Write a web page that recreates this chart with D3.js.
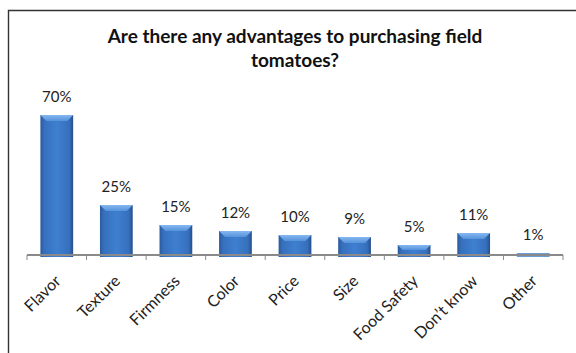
<!DOCTYPE html>
<html>
<head>
<meta charset="utf-8">
<script src="https://cdn.jsdelivr.net/npm/d3@7"></script>
<style>
  html, body { margin: 0; padding: 0; background: #fff; }
  svg { display: block; }
</style>
</head>
<body>
<svg id="chart" width="576" height="353"></svg>
<script>
// Survey responses: share of respondents naming each advantage
const categories = ["Flavor", "Texture", "Firmness", "Color", "Price", "Size", "Food Safety", "Don\u2019t know", "Other"];
const values = [70, 25, 15, 12, 10, 9, 5, 11, 1];
const valueLabels = ["70%", "25%", "15%", "12%", "10%", "9%", "5%", "11%", "1%"];
const titleLines = ["Are there any advantages to purchasing field", "tomatoes?"];

const svg = d3.select("#chart");
const W = 576, H = 353;
const font = "Lato, 'Noto Sans', sans-serif";

const axisY = 255;
const x = d3.scaleBand().domain(categories).range([27, 563]).paddingInner(0.45).paddingOuter(0.225);
const y = d3.scaleLinear().domain([0, 80]).range([axisY, 95]);

// gradients for the bevelled bars
const defs = svg.append("defs");
const body = defs.append("linearGradient").attr("id", "barBody").attr("x1", 0).attr("x2", 1).attr("y1", 0).attr("y2", 0);
[["0%", "#2a5a9c"], ["12%", "#3670bd"], ["50%", "#3f7fd0"], ["88%", "#3670bd"], ["100%", "#264f8a"]]
  .forEach(([o, c]) => body.append("stop").attr("offset", o).attr("stop-color", c));
const cap = defs.append("linearGradient").attr("id", "barCap").attr("x1", 0).attr("x2", 0).attr("y1", 0).attr("y2", 1);
[["0%", "#86b8f0"], ["100%", "#5592dc"]]
  .forEach(([o, c]) => cap.append("stop").attr("offset", o).attr("stop-color", c));

// chart frame (left and top edges)
svg.append("path")
  .attr("d", `M8.5,${H} V10.5 H${W}`)
  .attr("fill", "none").attr("stroke", "#333").attr("stroke-width", 1.4);

// title
svg.append("text")
  .attr("x", 295).attr("y", 43)
  .attr("text-anchor", "middle")
  .attr("font-family", font)
  .attr("font-weight", "bold").attr("font-size", 19).attr("fill", "#111")
  .selectAll("tspan").data(titleLines).join("tspan")
  .attr("x", 295).attr("dy", (d, i) => i === 0 ? 0 : 24)
  .text(d => d);

// bars
const bw = x.bandwidth();
const bars = svg.append("g").selectAll("g").data(categories).join("g");
bars.append("rect")
  .attr("x", d => x(d))
  .attr("y", (d, i) => y(values[i]))
  .attr("width", bw)
  .attr("height", (d, i) => y(0) - y(values[i]) + 2)
  .attr("fill", (d, i) => values[i] < 2 ? "#6d9bd6" : "url(#barBody)");
// bevelled top cap
bars.filter((d, i) => values[i] >= 2).append("path")
  .attr("d", (d, i) => {
    const x0 = x(d), x1 = x0 + bw, t = y(values[i]), h = Math.min(6, (y(0) - t) / 2);
    return `M${x0},${t} H${x1} L${x1 - h},${t + h} H${x0 + h} Z`;
  })
  .attr("fill", "url(#barCap)");

// value labels
svg.append("g").selectAll("text").data(categories).join("text")
  .attr("x", d => x(d) + bw / 2)
  .attr("y", (d, i) => y(values[i]) - 13)
  .attr("text-anchor", "middle")
  .attr("font-family", font)
  .attr("font-size", 15).attr("fill", "#222")
  .text((d, i) => valueLabels[i]);

// category axis with ticks between categories
const edges = categories.map(c => x(c) - x.step() * x.paddingInner() / 2).concat([563]);
const axis = svg.append("g");
axis.append("line")
  .attr("x1", 27).attr("x2", 563).attr("y1", axisY).attr("y2", axisY)
  .attr("stroke", "#8a8a8a").attr("stroke-width", 2);
axis.selectAll("line.tick").data(edges).join("line").attr("class", "tick")
  .attr("x1", d => d).attr("x2", d => d).attr("y1", axisY).attr("y2", axisY + 5)
  .attr("stroke", "#8a8a8a").attr("stroke-width", 1);

// rotated category labels
svg.append("g").selectAll("text").data(categories).join("text")
  .attr("transform", d => `translate(${x(d) + bw / 2 + 5},${axisY + 27}) rotate(-45)`)
  .attr("text-anchor", "end")
  .attr("font-family", font)
  .attr("font-size", 16).attr("fill", "#222")
  .text(d => d);
</script>
</body>
</html>
